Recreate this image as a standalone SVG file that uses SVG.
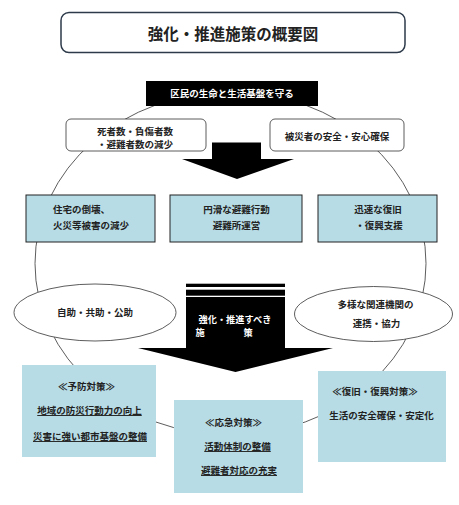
<svg xmlns="http://www.w3.org/2000/svg" width="459" height="505" viewBox="0 0 459 505">
<style>
text{font-family:"Noto Sans CJK JP","Noto Sans CJK SC",sans-serif;font-weight:bold;fill:#222;text-anchor:middle;dominant-baseline:central}
.t{font-size:9.5px}
.w{fill:#fff}
.u{text-decoration:underline}
.ring{fill:none;stroke:#333;stroke-width:0.8}
.rb{fill:#fff;stroke:#333;stroke-width:0.8}
.blue{fill:#b7dce6}
.row{fill:#b7dce6;stroke:#222;stroke-width:1}
.el{fill:#fff;stroke:#333;stroke-width:0.8}
</style>
<rect width="459" height="505" fill="#fff"/>
<g id="connectors">
<ellipse class="ring" cx="230.5" cy="263.5" rx="195.5" ry="171.5"/>
</g>
<g id="title">
<rect x="61" y="12.5" width="344" height="40" rx="8" fill="#fff" stroke="#2d3a4a" stroke-width="1.5"/>
<text x="233" y="33" style="font-size:15.5px">強化・推進施策の概要図</text>
</g>
<g id="goal">
<rect x="146" y="81" width="172" height="25" fill="#000"/>
<text class="t w" x="232" y="92.5">区民の生命と生活基盤を守る</text>
</g>
<g id="reduce">
<rect class="rb" x="66" y="119" width="140" height="32" rx="5"/>
<text class="t" x="135" y="130.5">死者数・負傷者数</text>
<text class="t" x="135" y="144">・避難者数の減少</text>
</g>
<g id="safety">
<rect class="rb" x="270" y="119" width="134" height="32" rx="5"/>
<text class="t" x="337" y="136">被災者の安全・安心確保</text>
</g>
<g id="arrow1">
<polygon points="212,142.5 261,142.5 261,159 294,159 237,179 182,159 212,159" fill="#000"/>
</g>
<g id="box-housing">
<rect class="row" x="26" y="195" width="129" height="47"/>
<text class="t" x="53" y="209" style="text-anchor:start">住宅の倒壊、</text>
<text class="t" x="91" y="225">火災等被害の減少</text>
</g>
<g id="box-evac">
<rect class="row" x="170" y="195" width="132" height="47"/>
<text class="t" x="236.5" y="209">円滑な避難行動</text>
<text class="t" x="236.5" y="225">避難所運営</text>
</g>
<g id="box-recovery">
<rect class="row" x="318" y="195" width="119" height="47"/>
<text class="t" x="378" y="209">迅速な復旧</text>
<text class="t" x="379" y="225">・復興支援</text>
</g>
<g id="ellipse-self">
<ellipse class="el" cx="95" cy="312.5" rx="81" ry="28.5"/>
<text class="t" x="95" y="312">自助・共助・公助</text>
</g>
<g id="ellipse-coop">
<ellipse class="el" cx="373.5" cy="314" rx="79" ry="27.5"/>
<text class="t" x="375.5" y="304.3">多様な関連機関の</text>
<text class="t" x="376.5" y="323.3">連携・協力</text>
</g>
<g id="arrow2">
<rect x="186" y="283.7" width="99" height="3.3" fill="#000"/>
<rect x="186" y="289.7" width="99" height="6" fill="#000"/>
<polygon points="186,297 285,297 285,348 333,348 235.5,372 138,348 186,348" fill="#000"/>
<text class="w" x="235" y="319.3" style="font-size:9.2px">強化・推進すべき</text>
<text class="w" x="195.6" y="332.3" style="font-size:9.2px;text-anchor:start;letter-spacing:6.8px">施　　策</text>
</g>
<g id="prevent">
<rect class="blue" x="22" y="365" width="134" height="92"/>
<text class="t" x="86.5" y="386">≪予防対策≫</text>
<text class="t u" x="89.5" y="410">地域の防災行動力の向上</text>
<text class="t u" x="90" y="436">災害に強い都市基盤の整備</text>
</g>
<g id="emergency">
<rect class="blue" x="174" y="400" width="129" height="93"/>
<text class="t" x="233.5" y="421.7">≪応急対策≫</text>
<text class="t u" x="237.5" y="446">活動体制の整備</text>
<text class="t u" x="239" y="470">避難者対応の充実</text>
</g>
<g id="restore">
<rect class="blue" x="318" y="371" width="128" height="91"/>
<text class="t" x="375" y="391">≪復旧・復興対策≫</text>
<text class="t" x="381.5" y="415">生活の安全確保・安定化</text>
</g>
</svg>
